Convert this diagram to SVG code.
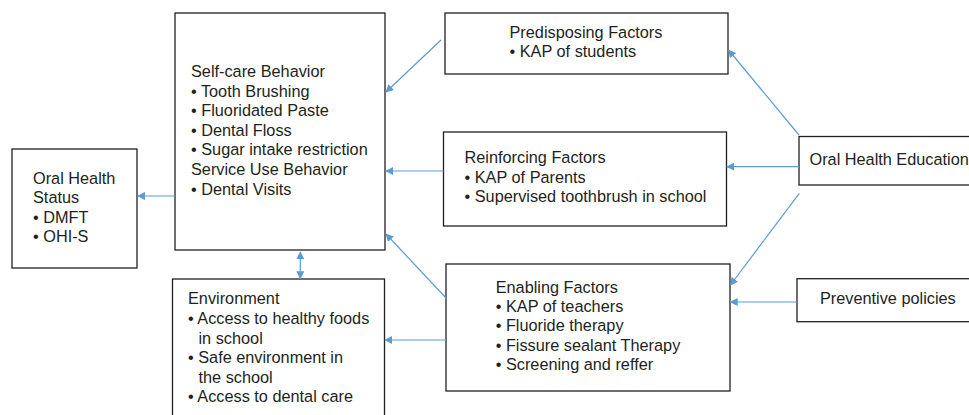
<svg xmlns="http://www.w3.org/2000/svg" width="969" height="415" viewBox="0 0 969 415">
<defs>
<style>
.box{fill:#fff;stroke:#231f20;stroke-width:1.3}
.t{font-family:"Liberation Sans",Arial,sans-serif;font-size:16.3px;fill:#231f20}
.c{stroke:#5b9bd5;stroke-width:1.2;fill:none}
</style>
<marker id="ah" viewBox="0 0 10 10" refX="9" refY="5" markerWidth="8" markerHeight="8" markerUnits="userSpaceOnUse" orient="auto-start-reverse">
<path d="M0,0 L10,5 L0,10 z" fill="#5b9bd5"/>
</marker>
</defs>
<rect width="969" height="415" fill="#fff"/>
<g id="selfcare">
<rect class="box" x="175" y="13" width="210" height="237"/>
<text class="t"><tspan x="191" y="77">Self-care Behavior</tspan><tspan x="191" y="96.6">• Tooth Brushing</tspan><tspan x="191" y="116.2">• Fluoridated Paste</tspan><tspan x="191" y="135.8">• Dental Floss</tspan><tspan x="191" y="155.4">• Sugar intake restriction</tspan><tspan x="191" y="175">Service Use Behavior</tspan><tspan x="191" y="194.6">• Dental Visits</tspan></text>
</g>
<g id="status">
<rect class="box" x="12" y="149" width="125" height="119"/>
<text class="t"><tspan x="33" y="184">Oral Health</tspan><tspan x="33" y="203">Status</tspan><tspan x="33" y="222.5">• DMFT</tspan><tspan x="33" y="242.3">• OHI-S</tspan></text>
</g>
<g id="predisposing">
<rect class="box" x="445" y="13" width="283" height="61"/>
<text class="t"><tspan x="509.5" y="37.7">Predisposing Factors</tspan><tspan x="509.5" y="56.8">• KAP of students</tspan></text>
</g>
<g id="reinforcing">
<rect class="box" x="443.5" y="132" width="283" height="94"/>
<text class="t"><tspan x="464.5" y="163.4">Reinforcing Factors</tspan><tspan x="464.5" y="182.7">• KAP of Parents</tspan><tspan x="464.5" y="202.3">• Supervised toothbrush in school</tspan></text>
</g>
<g id="education">
<rect class="box" x="799" y="136.5" width="200" height="48.5"/>
<text class="t" x="809.5" y="164.5">Oral Health Education</text>
</g>
<g id="environment">
<rect class="box" x="172.5" y="279" width="212" height="150"/>
<text class="t"><tspan x="188" y="304.3">Environment</tspan><tspan x="188" y="324">• Access to healthy foods</tspan><tspan x="198.5" y="343.5">in school</tspan><tspan x="188" y="363.3">• Safe environment in</tspan><tspan x="198.5" y="382.8">the school</tspan><tspan x="188" y="402.4">• Access to dental care</tspan></text>
</g>
<g id="enabling">
<rect class="box" x="446" y="264" width="284" height="127"/>
<text class="t"><tspan x="495.7" y="292.7">Enabling Factors</tspan><tspan x="495.7" y="311.8">• KAP of teachers</tspan><tspan x="495.7" y="331.2">• Fluoride therapy</tspan><tspan x="495.7" y="351">• Fissure sealant Therapy</tspan><tspan x="495.7" y="370.4">• Screening and reffer</tspan></text>
</g>
<g id="preventive">
<rect class="box" x="797" y="278.7" width="200" height="43"/>
<text class="t" x="820" y="304">Preventive policies</text>
</g>
<g id="connectors">
<line class="c" x1="441" y1="40" x2="386" y2="92" marker-end="url(#ah)"/>
<line class="c" x1="443.5" y1="171" x2="386" y2="171" marker-end="url(#ah)"/>
<line class="c" x1="446.5" y1="298.5" x2="386" y2="234" marker-end="url(#ah)"/>
<line class="c" x1="175" y1="196" x2="138" y2="196" marker-end="url(#ah)"/>
<line class="c" x1="300.3" y1="252" x2="300.3" y2="278.5" marker-start="url(#ah)" marker-end="url(#ah)"/>
<line class="c" x1="446" y1="340" x2="385" y2="340" marker-end="url(#ah)"/>
<line class="c" x1="799" y1="135" x2="728.5" y2="50" marker-end="url(#ah)"/>
<line class="c" x1="799" y1="166.7" x2="727" y2="166.7" marker-end="url(#ah)"/>
<line class="c" x1="799.3" y1="193.3" x2="730.5" y2="285" marker-end="url(#ah)"/>
<line class="c" x1="797" y1="302" x2="730.5" y2="302" marker-end="url(#ah)"/>
</g>
</svg>
